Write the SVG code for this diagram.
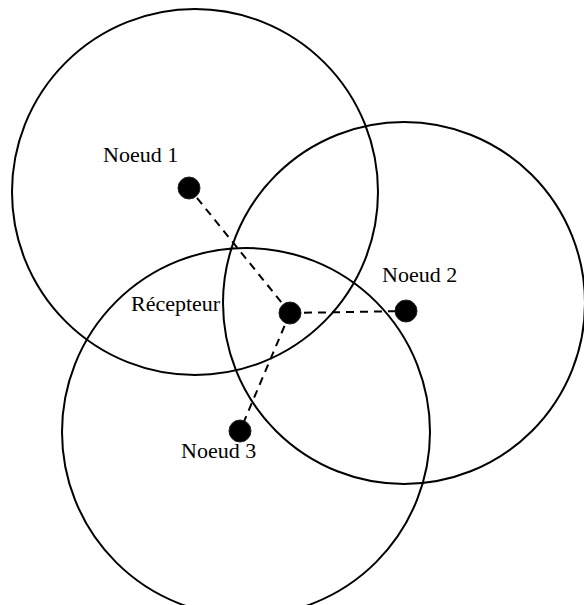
<svg xmlns="http://www.w3.org/2000/svg" width="584" height="605" viewBox="0 0 584 605">
<style>
.range{fill:none;stroke:#000;stroke-width:2}
.dot{fill:#000;stroke:#222;stroke-width:1}
.link{stroke:#000;stroke-width:2;stroke-dasharray:8,6;fill:none}
text{font-family:"Liberation Serif","Times New Roman",serif;font-size:22px;fill:#000}
</style>
<rect width="584" height="605" fill="#fff"/>
<g id="ranges">
<circle class="range" cx="195" cy="192" r="183"/>
<circle class="range" cx="404" cy="303" r="181"/>
<circle class="range" cx="246" cy="432" r="184"/>
</g>
<g id="connectors">
<line class="link" x1="290" y1="313" x2="189" y2="188"/>
<line class="link" x1="290" y1="313" x2="406" y2="311"/>
<line class="link" x1="290" y1="313" x2="240" y2="431"/>
</g>
<g id="noeud1"><circle class="dot" cx="189" cy="188" r="11"/><text x="103" y="162">Noeud 1</text></g>
<g id="recepteur"><circle class="dot" cx="290" cy="313" r="11"/><text x="131" y="311">Récepteur</text></g>
<g id="noeud2"><circle class="dot" cx="406" cy="311" r="11"/><text x="382" y="282">Noeud 2</text></g>
<g id="noeud3"><circle class="dot" cx="240" cy="431" r="11"/><text x="181" y="458">Noeud 3</text></g>
</svg>
